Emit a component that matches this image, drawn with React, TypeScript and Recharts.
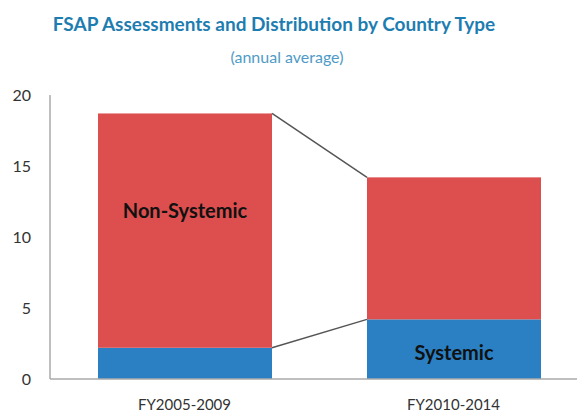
import { BarChart, Bar, XAxis, YAxis, LabelList } from "recharts";

const categories = ["FY2005-2009", "FY2010-2014"];
const systemic = [2.2, 4.2];
const nonSystemic = [16.5, 10.0];
const yTicks = [0, 5, 10, 15, 20];
const nonSystemicLabels = ["Non-Systemic", ""];
const systemicLabels = ["", "Systemic"];

const data = categories.map((name, i) => ({
  name,
  systemic: systemic[i],
  nonSystemic: nonSystemic[i],
}));

const RED = "#DC4F4E";
const BLUE = "#2A80C3";

// remember the previous bar of each series so the next one can draw the connector
const prevBar: Record<string, { x: number; y: number; w: number }> = {};

function makeShape(key: string, fill: string) {
  return (props: any) => {
    const { x, y, width, height, index } = props;
    const prev = prevBar[key];
    prevBar[key] = { x, y, w: width };
    return (
      <g>
        <rect x={x} y={y} width={width} height={height} fill={fill} />
        {index > 0 && prev && (
          <line x1={prev.x + prev.w} y1={prev.y} x2={x} y2={y} stroke="#555" strokeWidth={1.5} />
        )}
      </g>
    );
  };
}

function segmentLabel(labels: string[], rel: number) {
  return (props: any) => {
    const { x, y, width, height, index } = props;
    const text = labels[index];
    if (!text) return null;
    return (
      <text
        x={x + width / 2}
        y={y + height * rel}
        textAnchor="middle"
        dominantBaseline="central"
        fontFamily="Lato"
        fontWeight={700}
        fontSize={20}
        fill="#111"
      >
        {text}
      </text>
    );
  };
}

export default function App() {
  return (
    <div
      style={{
        position: "absolute",
        left: 0,
        top: 0,
        width: 577,
        height: 416,
        overflow: "hidden",
        background: "#fff",
        fontFamily: "Lato",
      }}
    >
      <div
        style={{
          position: "absolute",
          top: 12,
          left: 0,
          width: 548,
          textAlign: "center",
          color: "#1E7DB0",
          fontWeight: 700,
          fontSize: 19,
        }}
      >
        FSAP Assessments and Distribution by Country Type
      </div>
      <div
        style={{
          position: "absolute",
          top: 47,
          left: 0,
          width: 574,
          textAlign: "center",
          color: "#4F9BC7",
          fontSize: 16,
        }}
      >
        (annual average)
      </div>
      <BarChart
        width={600}
        height={416}
        data={data}
        margin={{ top: 95, right: 12, bottom: 7, left: 0 }}
        barSize={174}
      >
        <XAxis
          dataKey="name"
          height={30}
          tickLine={false}
          axisLine={{ stroke: "#aaa", strokeWidth: 1.5 }}
          tick={{ fontSize: 15, fill: "#333", fontFamily: "Lato" }}
          tickMargin={14}
        />
        <YAxis
          width={50}
          domain={[0, 20]}
          ticks={yTicks}
          tickLine={false}
          axisLine={{ stroke: "#aaa", strokeWidth: 1.5 }}
          tick={{ fontSize: 16, fill: "#333", fontFamily: "Lato" }}
          tickMargin={13}
        />
        <Bar dataKey="systemic" stackId="a" fill={BLUE} isAnimationActive={false} shape={makeShape("systemic", BLUE)}>
          <LabelList dataKey="systemic" content={segmentLabel(systemicLabels, 0.55)} />
        </Bar>
        <Bar dataKey="nonSystemic" stackId="a" fill={RED} isAnimationActive={false} shape={makeShape("nonSystemic", RED)}>
          <LabelList dataKey="nonSystemic" content={segmentLabel(nonSystemicLabels, 0.41)} />
        </Bar>
      </BarChart>
    </div>
  );
}
